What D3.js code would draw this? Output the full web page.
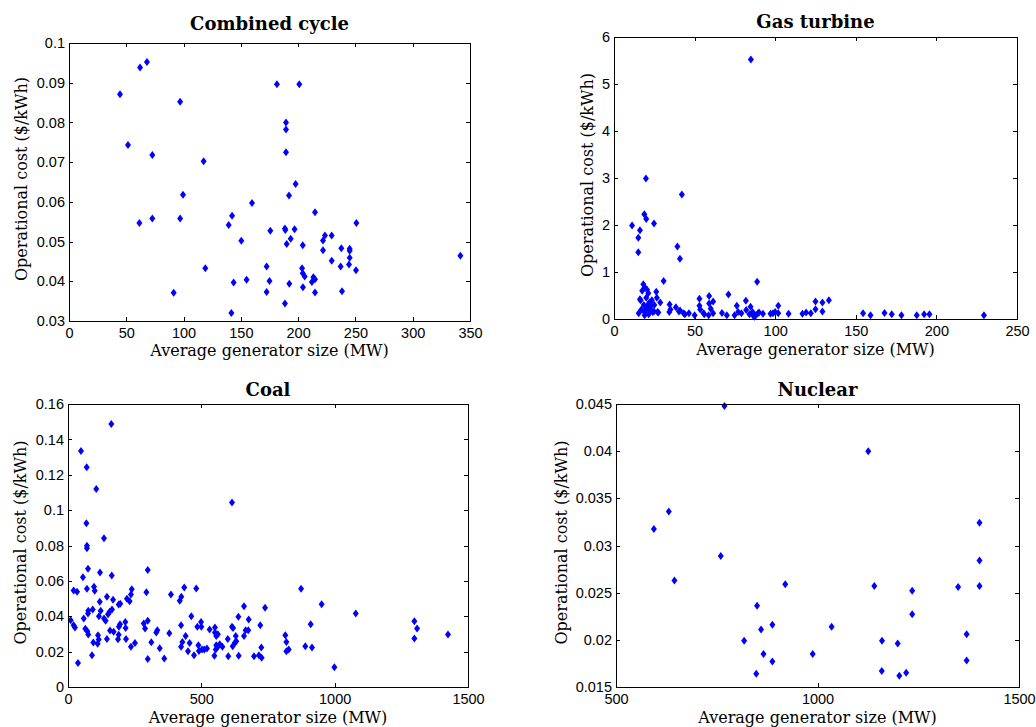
<!DOCTYPE html>
<html>
<head>
<meta charset="utf-8">
<script src="https://cdn.jsdelivr.net/npm/d3@7"></script>
<style>
  html, body { margin: 0; padding: 0; background: #fff; }
  svg { display: block; }
  .tick text { font-family: "Liberation Sans", Arial, sans-serif; font-size: 14.5px; fill: #000; }
  .title { font-family: "DejaVu Serif", "Liberation Serif", serif; font-weight: bold; font-size: 18px; }
  .alabel { font-family: "DejaVu Serif", "Liberation Serif", serif; font-size: 16px; }
</style>
</head>
<body>
<svg id="chart" width="1036" height="727"></svg>
<script>
// ---------------- data ----------------
const titles = ["Combined cycle", "Gas turbine", "Coal", "Nuclear"];
const xLabel = "Average generator size (MW)";
const yLabel = "Operational cost ($/kWh)";

// Combined cycle
const ccX = [44.5, 62, 68, 51.5, 97, 72.7, 117.5, 99.5, 61.4, 72.7, 97, 119, 91.4, 141.7, 139.4, 142.3, 143.7, 150.4, 155, 159.7,
  172.5, 172.5, 175, 175.7, 181.5, 201, 189.4, 189.4, 189.4, 197.8, 192, 188.5, 188.8, 196.9, 193.5, 190, 188.5, 192.3, 204, 203.4,
  204, 205.7, 204.2, 212, 213.3, 214.7, 214.7, 214.7, 221.7, 223.4, 221.7, 229.3, 229.3, 237.7, 237.1, 238.3, 245, 245, 245, 244.4,
  250.5, 250.8, 341.6];
const ccY = [0.0871, 0.0938, 0.0952, 0.0743, 0.0852, 0.0718, 0.0702, 0.0618, 0.0547, 0.0558, 0.0558, 0.0433, 0.0371, 0.0320, 0.0542, 0.0565, 0.0397, 0.0502, 0.0404, 0.0597,
  0.0437, 0.0373, 0.0401, 0.0527, 0.0896, 0.0896, 0.0800, 0.0782, 0.0725, 0.0645, 0.0616, 0.0533, 0.0529, 0.0531, 0.0507, 0.0494, 0.0344, 0.0394, 0.0491, 0.0433,
  0.0420, 0.0412, 0.0385, 0.0398, 0.0410, 0.0405, 0.0372, 0.0574, 0.0503, 0.0515, 0.0478, 0.0515, 0.0452, 0.0483, 0.0437, 0.0375, 0.0482, 0.0477, 0.0459, 0.0442,
  0.0428, 0.0547, 0.0464];

// Gas turbine
const gtX = [84.9, 19.8, 42.1, 18.8, 20, 24.8, 11.2, 16.1, 15.1, 15.1, 39.3, 40.9, 30.8, 88.8, 18.2, 19.2, 20.5, 21.3, 26.2, 26.6,
  71, 16.1, 28.7, 53, 59, 59, 61.5, 81.8, 133.3, 125, 129.3, 34.5, 38.4, 53, 76.2, 84.7, 101.9, 125, 129.3, 15.3,
  19, 21, 23.1, 24.8, 27.5, 34.3, 40.3, 43.2, 46.5, 50, 55.6, 58.7, 61.5, 67, 70, 74.8, 79, 82, 86.2, 87.2,
  89.3, 92.4, 97.1, 98.6, 101.9, 108.3, 116.9, 119.2, 122.1, 154.5, 159.1, 167.8, 172.3, 178.3, 187.8, 192.4, 195.7, 229.5,
  16.5, 17, 17.5, 18.5, 19, 20, 20.5, 21.5, 22, 22.5, 24, 25, 27, 19, 21, 23.5, 35, 41, 44, 53.5, 56, 60, 77, 84, 86, 88, 90, 100];
const gtY = [5.52, 2.99, 2.65, 2.23, 2.13, 2.03, 1.99, 1.89, 1.73, 1.42, 1.54, 1.28, 0.81, 0.79, 0.74, 0.67, 0.62, 0.55, 0.58, 0.45,
  0.52, 0.42, 0.35, 0.43, 0.49, 0.33, 0.37, 0.39, 0.40, 0.37, 0.35, 0.31, 0.25, 0.28, 0.28, 0.26, 0.28, 0.21, 0.16, 0.12,
  0.16, 0.23, 0.28, 0.16, 0.14, 0.15, 0.16, 0.12, 0.12, 0.08, 0.12, 0.08, 0.12, 0.13, 0.08, 0.08, 0.12, 0.19, 0.08, 0.05,
  0.12, 0.11, 0.11, 0.12, 0.12, 0.11, 0.11, 0.14, 0.12, 0.12, 0.08, 0.13, 0.10, 0.08, 0.08, 0.10, 0.10, 0.08,
  0.40, 0.20, 0.60, 0.30, 0.15, 0.45, 0.25, 0.10, 0.35, 0.20, 0.15, 0.30, 0.15, 0.08, 0.30, 0.40, 0.20, 0.18, 0.10, 0.20, 0.10, 0.22, 0.15, 0.10, 0.15, 0.08, 0.14, 0.15];

// Coal
const coalX = [162.5, 48.8, 70, 106, 615, 68.8, 71, 71, 135, 75, 56, 120, 164, 299, 21, 34, 71, 97.5, 100, 239,
  236, 294, 386, 436, 481, 874, 425, 419, 146, 169, 119, 190, 196, 221, 231, 951, 1079, 660, 739, 59,
  76, 92.5, 75, 122.5, 116, 135, 141, 150, 156, 165, 10, 21, 26, 65, 72.5, 76, 95, 112.5, 115, 111,
  90, 37.5, 146, 157.5, 171, 187.5, 190, 191, 195, 215, 216, 217.5, 236, 251, 284, 299, 289, 299, 312.5, 331,
  335, 344, 361, 380, 424, 424, 429, 441, 450, 456, 462.5, 472.5, 485, 489, 491, 499, 500, 502.5, 511, 521,
  531, 549, 551, 551, 556, 562, 554, 556, 562, 569, 579, 601, 599, 615, 619, 617.5, 625, 629, 631, 640,
  639, 660, 666, 676, 677.5, 697.5, 716, 721, 725, 726, 815, 819, 819, 827.5, 890, 910, 915, 999, 1299, 1309,
  1299, 1425];
const coalY = [0.1487, 0.1334, 0.1243, 0.1120, 0.1043, 0.0926, 0.0799, 0.0784, 0.0841, 0.0669, 0.0620, 0.0648, 0.0631, 0.0661, 0.0546, 0.0538, 0.0555, 0.0567, 0.0544, 0.0552,
  0.0523, 0.0535, 0.0523, 0.0563, 0.0557, 0.0555, 0.0510, 0.0487, 0.0510, 0.0493, 0.0482, 0.0467, 0.0470, 0.0499, 0.0485, 0.0468, 0.0416, 0.0457, 0.0448, 0.0387,
  0.0431, 0.0438, 0.0416, 0.0431, 0.0400, 0.0387, 0.0374, 0.0412, 0.0425, 0.0438, 0.0378, 0.0349, 0.0336, 0.0329, 0.0315, 0.0297, 0.0251, 0.0293, 0.0268, 0.0244,
  0.0179, 0.0136, 0.0272, 0.0319, 0.0312, 0.0270, 0.0295, 0.0340, 0.0355, 0.0368, 0.0334, 0.0272, 0.0227, 0.0249, 0.0359, 0.0374, 0.0331, 0.0159, 0.0253, 0.0308,
  0.0321, 0.0219, 0.0161, 0.0304, 0.0349, 0.0227, 0.0255, 0.0289, 0.0202, 0.0249, 0.0400, 0.0179, 0.0340, 0.0236, 0.0204, 0.0368, 0.0340, 0.0212, 0.0212, 0.0217,
  0.0325, 0.0176, 0.0336, 0.0308, 0.0289, 0.0298, 0.0212, 0.0236, 0.0227, 0.0242, 0.0227, 0.0174, 0.0272, 0.0340, 0.0334, 0.0230, 0.0249, 0.0289, 0.0259, 0.0176,
  0.0397, 0.0289, 0.0321, 0.0321, 0.0382, 0.0174, 0.0179, 0.0349, 0.0223, 0.0166, 0.0293, 0.0255, 0.0202, 0.0212, 0.0230, 0.0355, 0.0223, 0.0111, 0.0372, 0.0331,
  0.0274, 0.0297];

// Nuclear
const nucX = [594, 631, 645, 760, 769, 818, 850, 848, 860, 866, 888, 888, 920, 988, 1035, 1126, 1141, 1160, 1159.5, 1199,
  1203, 1220, 1235, 1235, 1349, 1370, 1370, 1402, 1402, 1402];
const nucY = [0.03175, 0.0336, 0.0263, 0.0289, 0.0448, 0.0199, 0.0236, 0.0164, 0.0211, 0.0185, 0.0216, 0.0177, 0.0259, 0.0185, 0.0214, 0.0400, 0.0257, 0.0199, 0.0167, 0.0196,
  0.0162, 0.0165, 0.0252, 0.0227, 0.0256, 0.0206, 0.0178, 0.0324, 0.0284, 0.0257];

// Tick values and labels
const ccXTicks = [0, 50, 100, 150, 200, 250, 300, 350];
const ccYTicks = [0.03, 0.04, 0.05, 0.06, 0.07, 0.08, 0.09, 0.1];
const ccYTickLabels = ["0.03", "0.04", "0.05", "0.06", "0.07", "0.08", "0.09", "0.1"];
const gtXTicks = [0, 50, 100, 150, 200, 250];
const gtYTicks = [0, 1, 2, 3, 4, 5, 6];
const gtYTickLabels = ["0", "1", "2", "3", "4", "5", "6"];
const coalXTicks = [0, 500, 1000, 1500];
const coalYTicks = [0, 0.02, 0.04, 0.06, 0.08, 0.1, 0.12, 0.14, 0.16];
const coalYTickLabels = ["0", "0.02", "0.04", "0.06", "0.08", "0.1", "0.12", "0.14", "0.16"];
const nucXTicks = [500, 1000, 1500];
const nucYTicks = [0.015, 0.02, 0.025, 0.03, 0.035, 0.04, 0.045];
const nucYTickLabels = ["0.015", "0.02", "0.025", "0.03", "0.035", "0.04", "0.045"];

// ---------------- layout ----------------
const panels = [
  { title: titles[0], xs: ccX, ys: ccY, xDom: [0, 350], yDom: [0.03, 0.1], xt: ccXTicks, yt: ccYTicks, ytl: ccYTickLabels,
    l: 69, r: 470, t: 43, b: 321, titleY: 30, xlabY: 356, ylabX: 27 },
  { title: titles[1], xs: gtX, ys: gtY, xDom: [0, 250], yDom: [0, 6], xt: gtXTicks, yt: gtYTicks, ytl: gtYTickLabels,
    l: 614, r: 1017, t: 37, b: 319, titleY: 28, xlabY: 355, ylabX: 593 },
  { title: titles[2], xs: coalX, ys: coalY, xDom: [0, 1500], yDom: [0, 0.16], xt: coalXTicks, yt: coalYTicks, ytl: coalYTickLabels,
    l: 68, r: 468, t: 404, b: 687, titleY: 396, xlabY: 723, ylabX: 26 },
  { title: titles[3], xs: nucX, ys: nucY, xDom: [500, 1500], yDom: [0.015, 0.045], xt: nucXTicks, yt: nucYTicks, ytl: nucYTickLabels,
    l: 616, r: 1019, t: 404, b: 687, titleY: 396, xlabY: 723, ylabX: 567 }
];

const svg = d3.select("#chart");
const diamond = "M0,-4L3,0L0,4L-3,0Z";

panels.forEach(p => {
  const x = d3.scaleLinear().domain(p.xDom).range([p.l, p.r]);
  const y = d3.scaleLinear().domain(p.yDom).range([p.b, p.t]);
  const g = svg.append("g");

  const pts = p.xs.map((v, i) => [v, p.ys[i]]);
  g.append("g").selectAll("path").data(pts).join("path")
    .attr("d", diamond)
    .attr("transform", d => `translate(${x(d[0])},${y(d[1])})`)
    .attr("fill", "#0000ff");

  const fmtY = v => p.ytl[p.yt.indexOf(v)];
  const ax = g.append("g").attr("transform", `translate(0,${p.b})`)
    .call(d3.axisBottom(x).tickValues(p.xt).tickSizeInner(-4).tickSizeOuter(0).tickPadding(7).tickFormat(d3.format("d")));
  const axT = g.append("g").attr("transform", `translate(0,${p.t})`)
    .call(d3.axisTop(x).tickValues(p.xt).tickSizeInner(-4).tickSizeOuter(0).tickFormat(""));
  const ay = g.append("g").attr("transform", `translate(${p.l},0)`)
    .call(d3.axisLeft(y).tickValues(p.yt).tickSizeInner(-4).tickSizeOuter(0).tickPadding(4).tickFormat(fmtY));
  const ayR = g.append("g").attr("transform", `translate(${p.r},0)`)
    .call(d3.axisRight(y).tickValues(p.yt).tickSizeInner(-4).tickSizeOuter(0).tickFormat(""));
  [ax, axT, ay, ayR].forEach(a => {
    a.select(".domain").remove();
    a.selectAll("line").attr("stroke", "#000").attr("shape-rendering", "crispEdges");
  });
  g.append("rect").attr("x", p.l).attr("y", p.t).attr("width", p.r - p.l).attr("height", p.b - p.t)
    .attr("fill", "none").attr("stroke", "#000").attr("stroke-width", 1).attr("shape-rendering", "crispEdges");

  g.append("text").attr("class", "title").attr("x", (p.l + p.r) / 2).attr("y", p.titleY)
    .attr("text-anchor", "middle").text(p.title);
  g.append("text").attr("class", "alabel").attr("x", (p.l + p.r) / 2).attr("y", p.xlabY)
    .attr("text-anchor", "middle").text(xLabel);
  g.append("text").attr("class", "alabel")
    .attr("transform", `translate(${p.ylabX},${(p.t + p.b) / 2 - 3}) rotate(-90)`)
    .attr("text-anchor", "middle").text(yLabel);
});
</script>
</body>
</html>
